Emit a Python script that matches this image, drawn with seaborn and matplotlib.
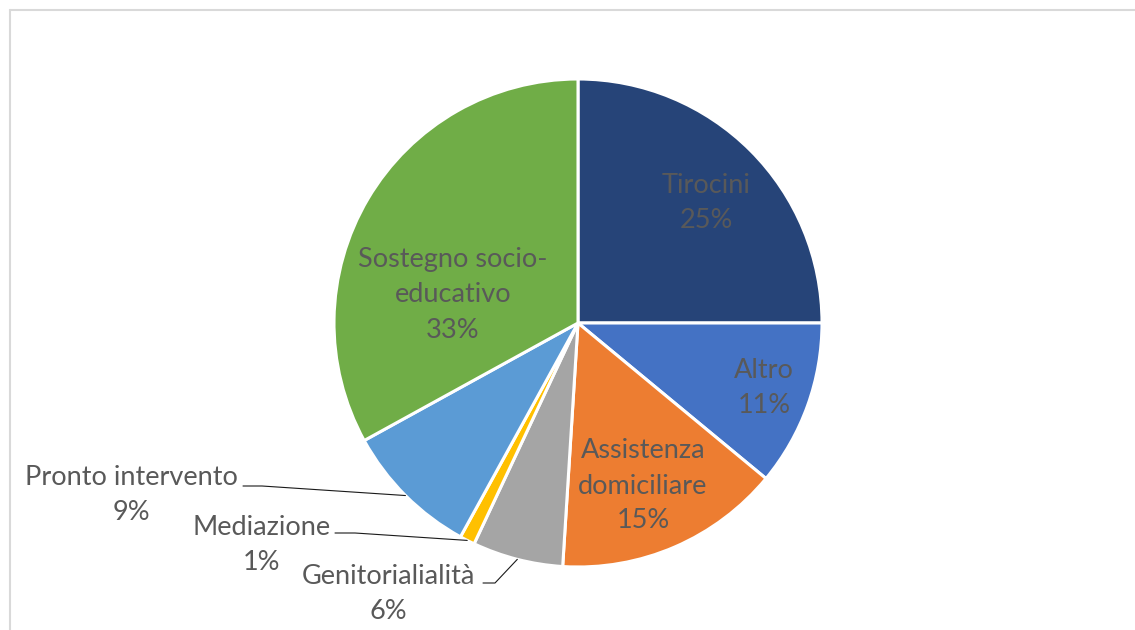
import matplotlib
matplotlib.use("Agg")
import matplotlib.pyplot as plt
import seaborn as sns
import numpy as np
from matplotlib.lines import Line2D

sns.set_theme(style="white")
plt.rcParams['font.family'] = ['Lato', 'DejaVu Sans']

categories = ["Tirocini", "Altro", "Assistenza\ndomiciliare", "Genitorialialità",
              "Mediazione", "Pronto intervento", "Sostegno socio-\neducativo"]
values = [25, 11, 15, 6, 1, 9, 33]
colors = ["#264478", "#4472C4", "#ED7D31", "#A5A5A5", "#FFC000", "#5B9BD5", "#70AD47"]

W, H = 1135, 630
cx, cy, R = 578, 323, 244

fig = plt.figure(figsize=(W / 100, H / 100), dpi=100)
ax = fig.add_axes([0, 0, 1, 1])

wedges, _ = ax.pie(values, colors=colors, startangle=90, counterclock=False,
                   radius=1.0, wedgeprops=dict(edgecolor="white", linewidth=2.2))
ax.set_xlim(-cx / R, (W - cx) / R)
ax.set_ylim(-(H - cy) / R, cy / R)
ax.set_aspect("equal")
ax.axis("off")

def d(px, py):
    return ((px - cx) / R, (cy - py) / R)

# label placements (pixel centres of text blocks)
inside = {0: (706, 203), 1: (764, 388), 2: (643, 486), 6: (453, 295)}
outside = {5: (131, 495, 243, 486, 262), 4: (262, 545, 335, 533, 355), 3: (388, 594, 483, 583, 495)}

tcol = "#595959"
fs = 19.5
ls = 1.5
for i, (px, py) in inside.items():
    x, y = d(px, py)
    ax.text(x, y, f"{categories[i]}\n{values[i]}%", ha="center", va="center",
            fontsize=fs, color=tcol, linespacing=ls)

for i, (px, py, lx0, ly, lx1) in outside.items():
    x, y = d(px, py)
    ax.text(x, y, f"{categories[i]}\n{values[i]}%", ha="center", va="center",
            fontsize=fs, color=tcol, linespacing=ls)
    w = wedges[i]
    mid = np.deg2rad((w.theta1 + w.theta2) / 2)
    ex, ey = 1.0 * np.cos(mid), 1.0 * np.sin(mid)
    a = d(lx0, ly)
    b = d(lx1, ly)
    ax.plot([a[0], b[0], ex], [a[1], b[1], ey], color="#1a1a1a", lw=0.8)

# chart frame
fig.add_artist(Line2D([10 / W, 10 / W], [0, 1 - 10 / H], transform=fig.transFigure,
                      color="#D9D9D9", lw=1.5))
fig.add_artist(Line2D([10 / W, 1], [1 - 10 / H, 1 - 10 / H], transform=fig.transFigure,
                      color="#D9D9D9", lw=1.5))

fig.savefig("out.png", dpi=100)
